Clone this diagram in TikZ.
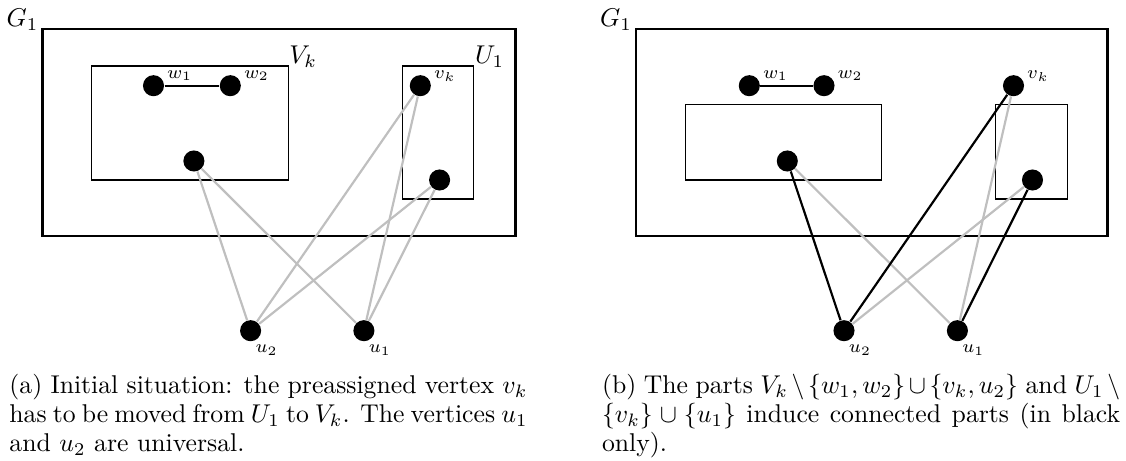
\documentclass[tikz,border=0pt]{standalone}
\begin{document}
\begin{tikzpicture}[x=0.3891pt,y=-0.3891pt,
  vtx/.style={circle,fill=black,inner sep=0pt,minimum size=8.2pt},
  outerbox/.style={draw=black,line width=1.1pt},
  partbox/.style={draw=black,line width=0.45pt},
  grayedge/.style={draw=black!25,line width=0.85pt},
  blackedge/.style={draw=black,line width=0.85pt},
  vlabel/.style={font=\scriptsize,inner sep=0pt,anchor=base west},
  setlabel/.style={inner sep=0pt},
  capstyle/.style={anchor=base west,inner sep=0pt,text width=201.6pt,align=justify,font=\fontsize{10}{11.2}\selectfont}]
\path[use as bounding box] (0,0) rectangle (1126,461);

% ---------- left panel ----------
\draw[outerbox] (42.5,29) rectangle (515.7,236);
\node[setlabel,anchor=base east] (Ga) at (38.9,26.5) {$G_1$};
\draw[partbox] (91.8,66) rectangle (288.2,180);
\node[setlabel,anchor=base west] (Vka) at (288.9,63.3) {$V_k$};
\draw[partbox] (402.1,66) rectangle (473.9,199);
\node[setlabel,anchor=base west] (U1a) at (474.6,63.3) {$U_1$};

\node[vtx] (w1a) at (153.5,85.7) {};
\node[vtx] (w2a) at (230.3,85.7) {};
\node[vtx] (vka) at (420.3,85.7) {};
\node[vtx] (xa) at (193.9,161) {};
\node[vtx] (ya) at (439.6,180) {};
\node[vtx] (u2a) at (250.6,330.7) {};
\node[vtx] (u1a) at (363.9,330.7) {};

\node[vlabel] (lw1a) at ([shift={(13.2,-7.4)}]w1a.center) {$w_1$};
\node[vlabel] (lw2a) at ([shift={(13.2,-7.4)}]w2a.center) {$w_2$};
\node[vlabel] (lvka) at ([shift={(13.2,-6.7)}]vka.center) {$v_k$};
\node[vlabel] (lu2a) at ([shift={(4.4,22.3)}]u2a.center) {$u_2$};
\node[vlabel] (lu1a) at ([shift={(4.4,22.3)}]u1a.center) {$u_1$};

\draw[grayedge] (xa) -- (u2a);
\draw[grayedge] (xa) -- (u1a);
\draw[grayedge] (vka) -- (u2a);
\draw[grayedge] (vka) -- (u1a);
\draw[grayedge] (ya) -- (u2a);
\draw[grayedge] (ya) -- (u1a);
\draw[blackedge] (w1a) -- (w2a);

\node[capstyle] (capa) at (8.9,394) {(a) Initial situation: the preassigned vertex $v_k$\linebreak has to be moved from $U_1$ to $V_k$. The vertices $u_1$\linebreak and $u_2$ are universal.};

% ---------- right panel ----------
\begin{scope}[shift={(593.5,0)}]
\draw[outerbox] (42.5,29) rectangle (514,236);
\node[setlabel,anchor=base east] (Gb) at (38.9,26.5) {$G_1$};
\draw[partbox] (91.8,104.3) rectangle (288.2,180);
\draw[partbox] (402.1,104.3) rectangle (473.9,199);

\node[vtx] (w1b) at (155.8,85.7) {};
\node[vtx] (w2b) at (230.5,85.7) {};
\node[vtx] (vkb) at (420,85.7) {};
\node[vtx] (xb) at (193.8,161) {};
\node[vtx] (yb) at (439,180) {};
\node[vtx] (u2b) at (250.5,330.7) {};
\node[vtx] (u1b) at (363.9,330.7) {};

\node[vlabel] (lw1b) at ([shift={(13.2,-7.4)}]w1b.center) {$w_1$};
\node[vlabel] (lw2b) at ([shift={(13.2,-7.4)}]w2b.center) {$w_2$};
\node[vlabel] (lvkb) at ([shift={(13.2,-6.7)}]vkb.center) {$v_k$};
\node[vlabel] (lu2b) at ([shift={(4.4,22.3)}]u2b.center) {$u_2$};
\node[vlabel] (lu1b) at ([shift={(4.4,22.3)}]u1b.center) {$u_1$};

\draw[grayedge] (xb) -- (u1b);
\draw[grayedge] (vkb) -- (u1b);
\draw[grayedge] (yb) -- (u2b);
\draw[blackedge] (xb) -- (u2b);
\draw[blackedge] (vkb) -- (u2b);
\draw[blackedge] (yb) -- (u1b);
\draw[blackedge] (w1b) -- (w2b);

\node[capstyle] (capb) at (8,394) {(b) The parts $V_k\setminus\{w_1,w_2\}\cup\{v_k,u_2\}$ and $U_1\setminus\penalty-10000\{v_k\}\cup\{u_1\}$ induce connected parts (in black\linebreak only).};
\end{scope}
\end{tikzpicture}
\end{document}
